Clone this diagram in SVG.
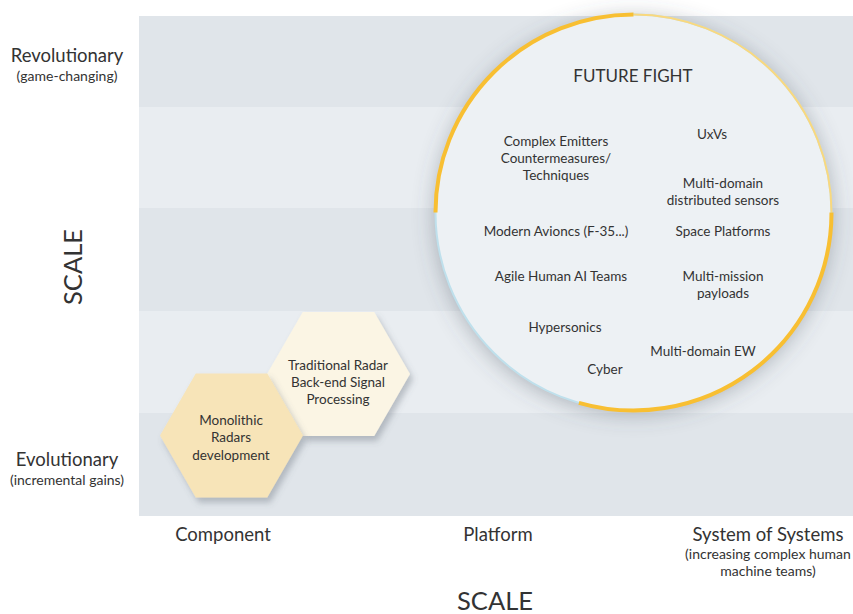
<svg xmlns="http://www.w3.org/2000/svg" width="853" height="614" viewBox="0 0 853 614">
<defs>
<filter id="sh" x="-25%" y="-25%" width="150%" height="150%"><feDropShadow dx="0" dy="3" stdDeviation="11" flood-color="#4a5460" flood-opacity="0.4"/></filter>
<filter id="hsh" x="-20%" y="-20%" width="140%" height="140%"><feDropShadow dx="3" dy="5" stdDeviation="3" flood-color="#5a6470" flood-opacity="0.35"/></filter>
<style>
text{font-family:"Lato","Open Sans","DejaVu Sans",sans-serif;fill:#333;text-anchor:middle}
.ax{font-size:18.5px}
.sub{font-size:14px}
.big{font-size:25.5px}
.in{font-size:13.5px}
.dk{fill:#e0e5ea}
.lt{fill:#e9edf1}
</style>
</defs>
<rect width="853" height="614" fill="#fff"/>
<g id="bands">
<rect class="dk" x="139" y="16" width="714" height="91"/>
<rect class="lt" x="139" y="107" width="714" height="101"/>
<rect class="dk" x="139" y="208" width="714" height="103"/>
<rect class="lt" x="139" y="311" width="714" height="102"/>
<rect class="dk" x="139" y="413" width="714" height="103"/>
</g>
<g id="axis-labels">
<text class="ax" x="67" y="62">Revolutionary</text>
<text class="sub" x="67" y="81">(game-changing)</text>
<text class="big" transform="translate(82,267) rotate(-90)">SCALE</text>
<text class="ax" x="67" y="466">Evolutionary</text>
<text class="sub" x="67" y="485">(incremental gains)</text>
<text class="ax" x="223" y="541">Component</text>
<text class="ax" x="498" y="541">Platform</text>
<text class="ax" x="768" y="541">System of Systems</text>
<text class="sub" x="768" y="559">(increasing complex human</text>
<text class="sub" x="768" y="576">machine teams)</text>
<text class="big" x="495" y="610">SCALE</text>
</g>
<g id="future-fight">
<circle cx="633.5" cy="212.5" r="198" fill="#edf1f4" filter="url(#sh)"/>
<circle cx="633.5" cy="212.5" r="198" fill="none" stroke="#bfe0ec" stroke-width="2"/>
<path d="M633.5,14.5 A198,198 0 0 1 831.5,212.5" fill="none" stroke="#f9d87e" stroke-width="2"/>
<path d="M435.5,212.5 A198,198 0 0 1 633.5,14.5" fill="none" stroke="#f8bf32" stroke-width="4"/>
<path d="M831.5,212.5 A198,198 0 0 1 578.9,402.8" fill="none" stroke="#f8bf32" stroke-width="4"/>
<text x="633" y="82" style="font-size:17px">FUTURE FIGHT</text>
<text class="in" x="556" y="146">Complex Emitters</text>
<text class="in" x="556" y="163">Countermeasures/</text>
<text class="in" x="556" y="180">Techniques</text>
<text class="in" x="712" y="139">UxVs</text>
<text class="in" x="723" y="188">Multi-domain</text>
<text class="in" x="723" y="205">distributed sensors</text>
<text class="in" x="556" y="236">Modern Avioncs (F-35...)</text>
<text class="in" x="723" y="236">Space Platforms</text>
<text class="in" x="561" y="281">Agile Human AI Teams</text>
<text class="in" x="723" y="281">Multi-mission</text>
<text class="in" x="723" y="298">payloads</text>
<text class="in" x="565" y="332">Hypersonics</text>
<text class="in" x="605" y="374">Cyber</text>
<text class="in" x="703" y="356">Multi-domain EW</text>
</g>
<g id="traditional-radar">
<polygon points="267,374 302.75,312 374.25,312 410,374 374.25,436 302.75,436" fill="#fbf5e4" filter="url(#hsh)"/>
<text class="in" x="338" y="370">Traditional Radar</text>
<text class="in" x="338" y="387">Back-end Signal</text>
<text class="in" x="338" y="404">Processing</text>
</g>
<g id="monolithic-radars">
<polygon points="160,435.5 195.75,373.5 267.25,373.5 303,435.5 267.25,497.5 195.75,497.5" fill="#f7e4b8" filter="url(#hsh)"/>
<text class="in" x="231" y="425">Monolithic</text>
<text class="in" x="231" y="442">Radars</text>
<text class="in" x="231" y="460">development</text>
</g>
<g id="connectors"></g>
</svg>
